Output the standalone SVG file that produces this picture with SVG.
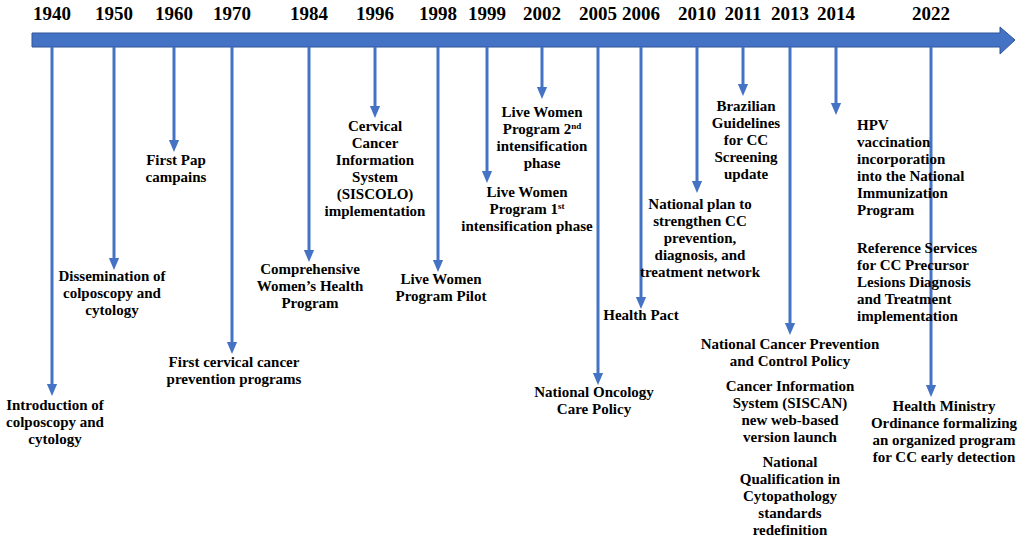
<svg xmlns="http://www.w3.org/2000/svg" width="1021" height="546" viewBox="0 0 1021 546">
<style>
.y{font:bold 19px "Liberation Serif",serif;fill:#000;text-anchor:middle}
.t{font:bold 15px "Liberation Serif",serif;fill:#000;text-anchor:middle}
.c line{stroke:#4472C4;stroke-width:3;marker-end:url(#a)}
</style>
<defs><marker id="a" markerWidth="4" markerHeight="4" refX="2" refY="2" orient="auto" markerUnits="strokeWidth"><path d="M0,0.3L4,2L0,3.7z" fill="#4472C4"/></marker></defs>
<rect width="1021" height="546" fill="#fff"/>
<g id="axis"><path d="M32,33H1000V27L1015,40L1000,54V47H32Z" fill="#4472C4" stroke="#2F5597" stroke-width="1"/></g>
<g id="years">
<text class="y" x="52" y="20">1940</text><text class="y" x="114" y="20">1950</text><text class="y" x="174" y="20">1960</text><text class="y" x="232" y="20">1970</text><text class="y" x="309" y="20">1984</text><text class="y" x="375" y="20">1996</text><text class="y" x="438" y="20">1998</text><text class="y" x="487" y="20">1999</text><text class="y" x="542" y="20">2002</text><text class="y" x="598" y="20">2005</text><text class="y" x="641" y="20">2006</text><text class="y" x="697" y="20">2010</text><text class="y" x="743" y="20">2011</text><text class="y" x="790" y="20">2013</text><text class="y" x="836" y="20">2014</text><text class="y" x="931" y="20">2022</text>
</g>
<g class="c" id="connectors">
<line x1="52" y1="47" x2="52" y2="390"/><line x1="114" y1="47" x2="114" y2="264"/><line x1="174" y1="47" x2="174" y2="146"/><line x1="232" y1="47" x2="232" y2="348"/><line x1="309" y1="47" x2="309" y2="256"/><line x1="375" y1="47" x2="375" y2="112"/><line x1="438" y1="47" x2="438" y2="266"/><line x1="487" y1="47" x2="487" y2="177"/><line x1="542" y1="47" x2="542" y2="93"/><line x1="598" y1="47" x2="598" y2="379"/><line x1="641" y1="47" x2="641" y2="303"/><line x1="697" y1="47" x2="697" y2="187"/><line x1="743" y1="47" x2="743" y2="90"/><line x1="790" y1="47" x2="790" y2="329"/><line x1="836" y1="47" x2="836" y2="109"/><line x1="931" y1="47" x2="931" y2="391"/>
</g>
<g id="n1940"><text class="t" x="55" y="410">Introduction of</text><text class="t" x="55" y="427">colposcopy and</text><text class="t" x="55" y="444">cytology</text></g>
<g id="n1950"><text class="t" x="112" y="281">Dissemination of</text><text class="t" x="112" y="298">colposcopy and</text><text class="t" x="112" y="315">cytology</text></g>
<g id="n1960"><text class="t" x="176" y="165">First Pap</text><text class="t" x="176" y="182">campains</text></g>
<g id="n1970"><text class="t" x="234" y="367">First cervical cancer</text><text class="t" x="234" y="384">prevention programs</text></g>
<g id="n1984"><text class="t" x="310" y="274">Comprehensive</text><text class="t" x="310" y="291">Women’s Health</text><text class="t" x="310" y="308">Program</text></g>
<g id="n1996"><text class="t" x="375" y="131">Cervical</text><text class="t" x="375" y="148">Cancer</text><text class="t" x="375" y="165">Information</text><text class="t" x="375" y="182">System</text><text class="t" x="375" y="199">(SISCOLO)</text><text class="t" x="375" y="216">implementation</text></g>
<g id="n1998"><text class="t" x="441" y="284">Live Women</text><text class="t" x="441" y="301">Program Pilot</text></g>
<g id="n1999"><text class="t" x="527" y="197">Live Women</text><text class="t" x="527" y="214">Program 1<tspan font-size="9" dy="-5">st</tspan></text><text class="t" x="527" y="231">intensification phase</text></g>
<g id="n2002"><text class="t" x="542" y="117">Live Women</text><text class="t" x="542" y="134">Program 2<tspan font-size="9" dy="-5">nd</tspan></text><text class="t" x="542" y="151">intensification</text><text class="t" x="542" y="168">phase</text></g>
<g id="n2005"><text class="t" x="594" y="397">National Oncology</text><text class="t" x="594" y="414">Care Policy</text></g>
<g id="n2006"><text class="t" x="641" y="320">Health Pact</text></g>
<g id="n2010"><text class="t" x="700" y="209">National plan to</text><text class="t" x="700" y="226">strengthen CC</text><text class="t" x="700" y="243">prevention,</text><text class="t" x="700" y="260">diagnosis, and</text><text class="t" x="700" y="277">treatment network</text></g>
<g id="n2011"><text class="t" x="746" y="111">Brazilian</text><text class="t" x="746" y="128">Guidelines</text><text class="t" x="746" y="145">for CC</text><text class="t" x="746" y="162">Screening</text><text class="t" x="746" y="179">update</text></g>
<g id="n2013"><text class="t" x="790" y="349">National Cancer Prevention</text><text class="t" x="790" y="366">and Control Policy</text><text class="t" x="790" y="391">Cancer Information</text><text class="t" x="790" y="408">System (SISCAN)</text><text class="t" x="790" y="425">new web-based</text><text class="t" x="790" y="442">version launch</text><text class="t" x="790" y="467">National</text><text class="t" x="790" y="484">Qualification in</text><text class="t" x="790" y="501">Cytopathology</text><text class="t" x="790" y="518">standards</text><text class="t" x="790" y="535">redefinition</text></g>
<g id="n2014"><text class="t" x="857" y="130" style="text-anchor:start">HPV</text><text class="t" x="857" y="147" style="text-anchor:start">vaccination</text><text class="t" x="857" y="164" style="text-anchor:start">incorporation</text><text class="t" x="857" y="181" style="text-anchor:start">into the National</text><text class="t" x="857" y="198" style="text-anchor:start">Immunization</text><text class="t" x="857" y="215" style="text-anchor:start">Program</text><text class="t" x="857" y="253" style="text-anchor:start">Reference Services</text><text class="t" x="857" y="270" style="text-anchor:start">for CC Precursor</text><text class="t" x="857" y="287" style="text-anchor:start">Lesions Diagnosis</text><text class="t" x="857" y="304" style="text-anchor:start">and Treatment</text><text class="t" x="857" y="321" style="text-anchor:start">implementation</text></g>
<g id="n2022"><text class="t" x="944" y="411">Health Ministry</text><text class="t" x="944" y="428">Ordinance formalizing</text><text class="t" x="944" y="445">an organized program</text><text class="t" x="944" y="462">for CC early detection</text></g>
</svg>
